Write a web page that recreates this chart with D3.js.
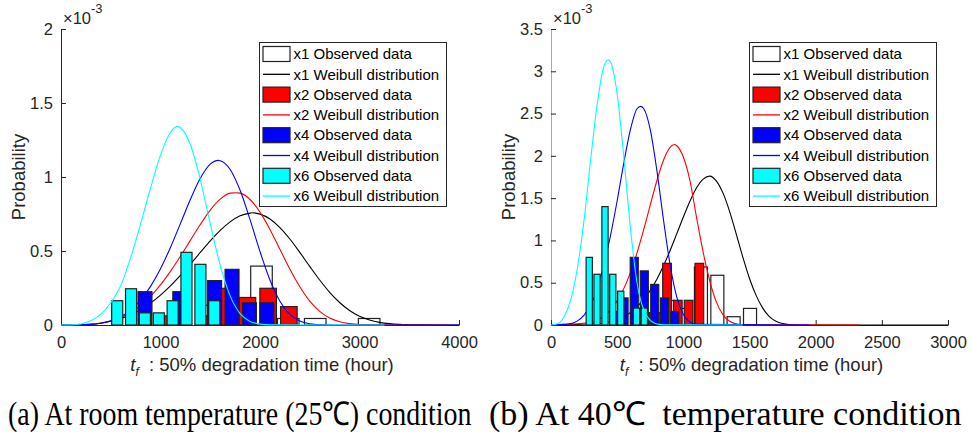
<!DOCTYPE html>
<html>
<head>
<meta charset="utf-8">
<script src="https://cdn.jsdelivr.net/npm/d3@7"></script>
<style>
  body { margin: 0; background: #fff; }
  svg { display: block; font-family: "Liberation Sans", Arial, sans-serif; }
</style>
</head>
<body>
<svg id="chart" width="971" height="441"></svg>
<script>
// probability values are in units of 1e-3

// (a) room temperature -- histogram bins (bin centres, hours) and heights
const aX1Bins = [928, 1199, 1470, 1742, 2015, 2284, 2555, 2826, 3097];
const aX1Vals = [0, 0.089, 0.133, 0.177, 0.398, 0.044, 0.044, 0, 0.044];
const aX2Bins = [1042, 1250, 1458, 1666, 1874, 2082, 2290];
const aX2Vals = [0.062, 0, 0.062, 0.248, 0.186, 0.248, 0.124];
const aX4Bins = [844, 1019, 1194, 1369, 1544, 1719, 1894, 2069];
const aX4Vals = [0.225, 0, 0.225, 0, 0.30, 0.376, 0.15, 0.15];
const aX6Bins = [565, 704, 843, 983, 1122, 1261, 1401, 1540];
const aX6Vals = [0.164, 0.245, 0.082, 0.082, 0.164, 0.491, 0.41, 0.164];

// (a) Weibull curves
const aBlackT = [0, 300, 400, 500, 600, 700, 800, 900, 1000, 1100, 1200, 1300, 1400, 1500, 1600, 1700, 1800, 1900, 1920, 2000, 2100, 2200, 2300, 2400, 2500, 2600, 2700, 2800, 2900, 3000, 3100, 3200, 3300, 3400, 3500, 3600, 4000];
const aBlackP = [0, 0.005, 0.012, 0.025, 0.043, 0.069, 0.104, 0.148, 0.202, 0.264, 0.335, 0.411, 0.490, 0.568, 0.639, 0.697, 0.738, 0.756, 0.758, 0.749, 0.716, 0.658, 0.581, 0.491, 0.396, 0.304, 0.221, 0.152, 0.098, 0.059, 0.034, 0.018, 0.009, 0.004, 0.002, 0.001, 0];
const aRedT = [0, 300, 400, 500, 600, 700, 800, 900, 1000, 1100, 1200, 1300, 1400, 1500, 1600, 1700, 1760, 1800, 1900, 2000, 2100, 2200, 2300, 2400, 2500, 2600, 2700, 2800, 2900, 3000, 3200, 3900];
const aRedP = [0, 0.005, 0.013, 0.027, 0.051, 0.085, 0.132, 0.194, 0.271, 0.362, 0.464, 0.572, 0.679, 0.776, 0.850, 0.891, 0.894, 0.891, 0.848, 0.763, 0.646, 0.512, 0.378, 0.258, 0.161, 0.092, 0.047, 0.022, 0.009, 0.003, 0, 0];
const aBlueT = [0, 300, 400, 500, 600, 700, 800, 900, 1000, 1100, 1200, 1300, 1400, 1500, 1580, 1600, 1700, 1800, 1900, 2000, 2100, 2200, 2300, 2400, 2500, 2600, 2800, 4000];
const aBlueP = [0, 0.004, 0.012, 0.028, 0.056, 0.101, 0.169, 0.261, 0.380, 0.524, 0.685, 0.848, 0.991, 1.087, 1.112, 1.110, 1.051, 0.910, 0.712, 0.496, 0.304, 0.161, 0.072, 0.027, 0.008, 0.002, 0, 0];
const aCyanT = [0, 100, 200, 300, 400, 500, 600, 700, 800, 900, 1000, 1100, 1173, 1200, 1300, 1400, 1500, 1600, 1700, 1800, 1900, 2000, 2100, 3250];
const aCyanP = [0, 0.001, 0.007, 0.028, 0.072, 0.150, 0.265, 0.455, 0.683, 0.925, 1.148, 1.301, 1.342, 1.333, 1.220, 0.983, 0.685, 0.403, 0.197, 0.077, 0.024, 0.006, 0.001, 0];

// (b) 40 C -- histogram bins and heights
const bX1Bins = [886, 1009, 1133, 1257, 1380, 1504];
const bX1Vals = [0.29, 0.196, 0.686, 0.588, 0.098, 0.196];
const bX2Bins = [713, 795, 877, 958, 1040, 1121];
const bX2Vals = [0.146, 0.146, 0.729, 0.292, 0.292, 0.729];
const bX4Bins = [476, 552, 629, 705, 784, 858, 935];
const bX4Vals = [0.16, 0.32, 0.80, 0.64, 0.48, 0.32, 0.16];
const bX6Bins = [289, 348, 408, 467, 527, 586, 646, 705];
const bX6Vals = [0.80, 0.60, 1.40, 0.60, 0.40, 0, 0.20, 0.20];

// (b) Weibull curves
const bBlackT = [0, 400, 500, 600, 700, 750, 800, 850, 900, 950, 1000, 1050, 1100, 1150, 1200, 1250, 1300, 1350, 1400, 1450, 1500, 1550, 1600, 1650, 1700, 1750, 1800, 1900, 3000];
const bBlackP = [0, 0.021, 0.061, 0.146, 0.299, 0.408, 0.542, 0.701, 0.881, 1.077, 1.277, 1.464, 1.622, 1.725, 1.760, 1.702, 1.559, 1.341, 1.075, 0.800, 0.550, 0.350, 0.200, 0.100, 0.045, 0.018, 0.006, 0, 0];
const bRedT = [0, 300, 400, 450, 500, 550, 600, 650, 700, 750, 800, 850, 900, 932, 950, 1000, 1050, 1100, 1150, 1200, 1250, 1300, 1350, 1400, 1450, 2330];
const bRedP = [0, 0.029, 0.107, 0.180, 0.285, 0.430, 0.619, 0.853, 1.124, 1.418, 1.706, 1.948, 2.101, 2.135, 2.120, 1.986, 1.707, 1.270, 0.860, 0.520, 0.270, 0.120, 0.045, 0.014, 0.003, 0];
const bBlueT = [0, 150, 200, 250, 300, 350, 400, 450, 500, 550, 600, 650, 677, 700, 750, 800, 850, 900, 950, 1000, 1050, 1100, 1950];
const bBlueP = [0, 0.016, 0.049, 0.117, 0.236, 0.424, 0.720, 1.060, 1.469, 1.915, 2.309, 2.557, 2.585, 2.560, 2.311, 1.828, 1.244, 0.712, 0.333, 0.124, 0.035, 0.007, 0];
const bCyanT = [0, 50, 100, 150, 200, 250, 300, 350, 400, 433, 450, 500, 550, 600, 650, 700, 750, 800, 850, 1450];
const bCyanP = [0, 0.014, 0.100, 0.300, 0.680, 1.240, 1.960, 2.620, 3.060, 3.135, 3.110, 2.730, 1.990, 1.150, 0.500, 0.180, 0.055, 0.012, 0.002, 0];

// axis ticks
const aXTicks = [0, 1000, 2000, 3000, 4000];
const aYTicks = [0, 0.5, 1, 1.5, 2];
const aYLabels = ["0", "0.5", "1", "1.5", "2"];
const bXTicks = [0, 500, 1000, 1500, 2000, 2500, 3000];
const bYTicks = [0, 0.5, 1, 1.5, 2, 2.5, 3, 3.5];
const bYLabels = ["0", "0.5", "1", "1.5", "2", "2.5", "3", "3.5"];

const legendNames = ["x1 Observed data", "x1 Weibull distribution", "x2 Observed data", "x2 Weibull distribution",
                     "x4 Observed data", "x4 Weibull distribution", "x6 Observed data", "x6 Weibull distribution"];
const seriesColors = ["#ffffff", "#ff0000", "#0000ff", "#00ffff"];
const lineColors = ["#000000", "#ff0000", "#0000ff", "#00ffff"];

const captions = ["(a) At room temperature (25\u2103) condition", "(b) At 40\u2103\u00a0\u00a0temperature condition"];

const svg = d3.select("#chart");
const plotTop = 29, plotBottom = 325;

function drawPanel(p) {
    const x = d3.scaleLinear().domain([0, p.xTicks[p.xTicks.length - 1]]).range([p.left, p.right]);
    const y = d3.scaleLinear().domain([0, p.yTicks[p.yTicks.length - 1]]).range([plotBottom, plotTop]);
    const g = svg.append("g");

    // axes (ticks point inward, no box)
    const yAxis = g.append("g")
        .attr("transform", "translate(" + p.left + ",0)")
        .call(d3.axisLeft(y).tickValues(p.yTicks).tickFormat((d, i) => p.yLabels[i])
              .tickSizeInner(-5).tickSizeOuter(0).tickPadding(8));
    yAxis.select(".domain").attr("stroke", p.yAxisColor);
    const xAxis = g.append("g")
        .attr("transform", "translate(0," + plotBottom + ")")
        .call(d3.axisBottom(x).tickValues(p.xTicks).tickFormat(d3.format("d"))
              .tickSizeInner(-5).tickSizeOuter(0).tickPadding(11));
    g.selectAll(".tick line").attr("stroke", "#262626");
    xAxis.select(".domain").attr("stroke", "#262626");
    g.selectAll(".tick text").attr("fill", "#262626")
        .style("font-size", "16.5px")
        .style("font-family", "'Liberation Sans', Arial, sans-serif");

    // observed bars then fitted curve, series by series
    p.series.forEach((s, k) => {
        const w = (s.bins[1] - s.bins[0]) * 0.8;
        const bars = s.bins.map((b, i) => ({b: b, v: s.vals[i]})).filter(d => d.v > 0);
        g.append("g").selectAll("rect")
            .data(bars)
            .enter().append("rect")
            .attr("x", d => x(d.b - w / 2))
            .attr("width", d => x(d.b + w / 2) - x(d.b - w / 2))
            .attr("y", d => y(d.v))
            .attr("height", d => y(0) - y(d.v))
            .attr("fill", seriesColors[k])
            .attr("stroke", "#222")
            .attr("stroke-width", 1.2);

        const pts = s.t.map((t, i) => [t, s.p[i]]);
        g.append("path")
            .datum(pts)
            .attr("fill", "none")
            .attr("stroke", lineColors[k])
            .attr("stroke-width", 1.1)
            .attr("d", d3.line().x(d => x(d[0])).y(d => y(d[1])).curve(d3.curveMonotoneX));
    });

    // exponent label
    const ex = g.append("text").attr("x", p.left + 2).attr("y", 24).attr("fill", "#262626");
    ex.append("tspan").style("font-size", "16.5px").text("\u00d710");
    ex.append("tspan").style("font-size", "13px").attr("dy", -11).text("-3");

    // axis titles
    g.append("text")
        .attr("transform", "translate(" + (p.left - 36) + "," + ((plotTop + plotBottom) / 2) + ") rotate(-90)")
        .attr("text-anchor", "middle")
        .style("font-size", "18.5px")
        .attr("fill", "#262626")
        .text("Probability");
    const xl = g.append("text")
        .attr("x", (p.left + p.right) / 2 + 2)
        .attr("y", 371)
        .attr("text-anchor", "middle")
        .style("font-size", "18.5px")
        .attr("fill", "#262626");
    xl.append("tspan").style("font-style", "italic").text("t");
    xl.append("tspan").style("font-style", "italic").style("font-size", "12px").attr("dy", 5).text("f");
    xl.append("tspan").attr("dy", -5).text("\u00a0\u00a0: 50% degradation time (hour)");

    // legend
    const lx = p.left + 198, ly = 42;
    const lg = g.append("g");
    lg.append("rect").attr("x", lx + 0.5).attr("y", ly + 0.5).attr("width", 187).attr("height", 164)
        .attr("fill", "#fff").attr("stroke", "#262626").attr("stroke-width", 1);
    legendNames.forEach((name, i) => {
        const cy = ly + 12 + i * 20.3;
        const k = Math.floor(i / 2);
        if (i % 2 === 0) {
            lg.append("rect").attr("x", lx + 4).attr("y", cy - 7.5).attr("width", 27).attr("height", 15)
                .attr("fill", seriesColors[k]).attr("stroke", "#222").attr("stroke-width", 1.2);
        } else {
            lg.append("line").attr("x1", lx + 4).attr("x2", lx + 31).attr("y1", cy).attr("y2", cy)
                .attr("stroke", lineColors[k]).attr("stroke-width", 1.3);
        }
        lg.append("text").attr("x", lx + 34.5).attr("y", cy).attr("dy", "0.35em")
            .style("font-size", "15px").attr("fill", "#000").text(name);
    });

    // caption under the panel, squeezed/stretched horizontally to its width
    const cap = svg.append("text")
        .style("font-family", "'Liberation Serif', 'Times New Roman', serif")
        .style("font-size", "33px")
        .attr("fill", "#000")
        .text(p.caption);
    const sx = p.capW / cap.node().getComputedTextLength();
    cap.attr("transform", "translate(" + p.capX + ",425) scale(" + sx + ",1)");
}

drawPanel({
    left: 61, right: 459, xTicks: aXTicks, yTicks: aYTicks, yLabels: aYLabels, yAxisColor: "#262626",
    caption: captions[0], capX: 8, capW: 464,
    series: [
        {bins: aX1Bins, vals: aX1Vals, t: aBlackT, p: aBlackP},
        {bins: aX2Bins, vals: aX2Vals, t: aRedT, p: aRedP},
        {bins: aX4Bins, vals: aX4Vals, t: aBlueT, p: aBlueP},
        {bins: aX6Bins, vals: aX6Vals, t: aCyanT, p: aCyanP}
    ]
});

drawPanel({
    left: 551, right: 948, xTicks: bXTicks, yTicks: bYTicks, yLabels: bYLabels, yAxisColor: "#a8a8a8",
    caption: captions[1], capX: 489, capW: 473,
    series: [
        {bins: bX1Bins, vals: bX1Vals, t: bBlackT, p: bBlackP},
        {bins: bX2Bins, vals: bX2Vals, t: bRedT, p: bRedP},
        {bins: bX4Bins, vals: bX4Vals, t: bBlueT, p: bBlueP},
        {bins: bX6Bins, vals: bX6Vals, t: bCyanT, p: bCyanP}
    ]
});
</script>
</body>
</html>
